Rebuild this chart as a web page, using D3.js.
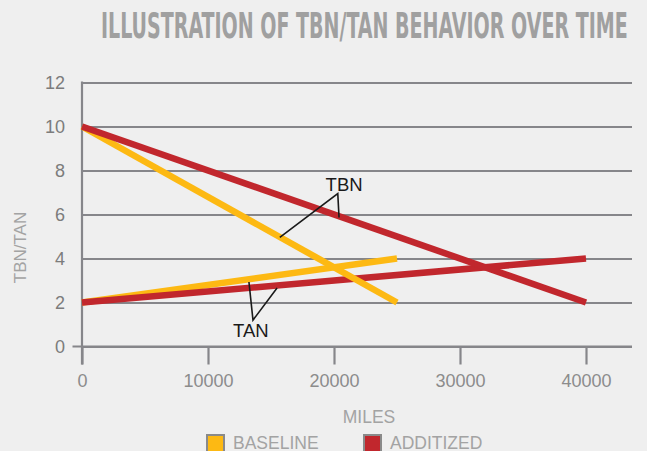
<!DOCTYPE html>
<html>
<head>
<meta charset="utf-8">
<script src="https://cdn.jsdelivr.net/npm/d3@7"></script>
<style>
  html, body { margin: 0; padding: 0; background: #efefef; }
  svg { display: block; font-family: "Liberation Sans", Arial, sans-serif; }
</style>
</head>
<body>
<svg width="647" height="451"></svg>
<script>
// data
const xTicks = [0, 10000, 20000, 30000, 40000]
const yTicks = [0, 2, 4, 6, 8, 10, 12]

const baselineMiles = [0, 25000]
const baselineTBN = [10, 2]
const baselineTAN = [2, 4]

const additizedMiles = [0, 40000]
const additizedTBN = [10, 2]
const additizedTAN = [2, 4]

const legendNames = ['BASELINE', 'ADDITIZED']
const colors = ['#fdb913', '#c1272d']

// callouts, in data units [miles, value]
const tbnLabel = [20800, 7.35]
const tbnLeader = [[15700, 4.96], [20300, 6.95], [20400, 5.86]]
const tanLabel = [13400, 0.75]
const tanLeader = [[13250, 2.93], [13570, 1.2], [15480, 2.66]]

const svg = d3.select('svg')

const left = 82, gridRight = 632
const x = d3.scaleLinear().domain([0, 40000]).range([left, 586])
const y = d3.scaleLinear().domain([0, 12]).range([346.5, 82.5])

// title, squeezed into its width with a transform
const title = svg.append('text')
  .attr('x', 0).attr('y', 0)
  .style('font-family', '"Liberation Sans Narrow", "DejaVu Sans Condensed", sans-serif')
  .style('font-weight', 'bold').style('font-size', '36px')
  .attr('fill', '#a0a0a0')
  .text('ILLUSTRATION OF TBN/TAN BEHAVIOR OVER TIME')
const tw = title.node().getComputedTextLength()
title.attr('transform', `translate(101,38) scale(${527 / tw},1)`)

// y axis + gridlines
const yAxis = svg.append('g')
  .attr('transform', `translate(${left},0)`)
  .call(d3.axisLeft(y).tickValues(yTicks).tickSize(-(gridRight - left)).tickPadding(17))
yAxis.select('.domain').remove()
yAxis.selectAll('.tick line').attr('stroke', '#86868a').attr('stroke-width', 2.2)
yAxis.selectAll('.tick text').attr('fill', '#7c7c7c').style('font-size', '18px')

// x axis
const xAxis = svg.append('g')
  .attr('transform', `translate(0,${y(0)})`)
  .call(d3.axisBottom(x).tickValues(xTicks).tickSize(18).tickPadding(10).tickFormat(d3.format('d')))
xAxis.select('.domain').remove()
xAxis.selectAll('.tick line').attr('stroke', '#86868a').attr('stroke-width', 2.2)
xAxis.selectAll('.tick text').attr('fill', '#8c8c8c').style('font-size', '18px')

svg.append('line')
  .attr('x1', 72.5).attr('x2', gridRight).attr('y1', y(0)).attr('y2', y(0))
  .attr('stroke', '#86868a').attr('stroke-width', 2.2)
svg.append('line')
  .attr('x1', left).attr('x2', left).attr('y1', y(12) - 1).attr('y2', y(0) + 18)
  .attr('stroke', '#86868a').attr('stroke-width', 2.2)

// axis titles
svg.append('text')
  .attr('transform', `translate(26,${(y(0) + y(12)) / 2 + 33}) rotate(-90)`)
  .attr('text-anchor', 'middle')
  .attr('fill', '#a3a3a3').style('font-size', '17px')
  .text('TBN/TAN')
svg.append('text')
  .attr('x', 369).attr('y', 423)
  .attr('text-anchor', 'middle')
  .attr('fill', '#a3a3a3').style('font-size', '17.5px')
  .text('MILES')

// lines
const line = d3.line().x(d => x(d[0])).y(d => y(d[1]))
const pairs = (xs, ys) => xs.map((v, i) => [v, ys[i]])
const series = [
  { pts: pairs(baselineMiles, baselineTAN), c: colors[0] },
  { pts: pairs(additizedMiles, additizedTAN), c: colors[1] },
  { pts: pairs(baselineMiles, baselineTBN), c: colors[0] },
  { pts: pairs(additizedMiles, additizedTBN), c: colors[1] }
]
svg.append('g').selectAll('path')
  .data(series)
  .join('path')
  .attr('d', d => line(d.pts))
  .attr('fill', 'none')
  .attr('stroke', d => d.c)
  .attr('stroke-width', 6.5)

// callouts
const callout = (lab, pts, txt) => {
  svg.append('path')
    .attr('d', line([pts[0], pts[1], pts[2]]))
    .attr('fill', 'none').attr('stroke', '#1a1a1a').attr('stroke-width', 1.6)
  svg.append('text')
    .attr('x', x(lab[0])).attr('y', y(lab[1]))
    .attr('dy', '0.36em').attr('text-anchor', 'middle')
    .attr('fill', '#1a1a1a').style('font-size', '18.5px')
    .text(txt)
}
callout(tbnLabel, tbnLeader, 'TBN')
callout(tanLabel, tanLeader, 'TAN')

// legend
const lg = svg.append('g').selectAll('g')
  .data(legendNames)
  .join('g')
  .attr('transform', (d, i) => `translate(${[206, 363][i]},434)`)
lg.append('rect')
  .attr('x', 1).attr('y', 1).attr('width', 17).attr('height', 17)
  .attr('fill', (d, i) => colors[i])
  .attr('stroke', '#8a8a8a').attr('stroke-width', 2)
lg.append('text')
  .attr('x', 27).attr('y', 14.5)
  .attr('fill', '#a3a3a3').style('font-size', '17.5px')
  .text(d => d)
</script>
</body>
</html>
